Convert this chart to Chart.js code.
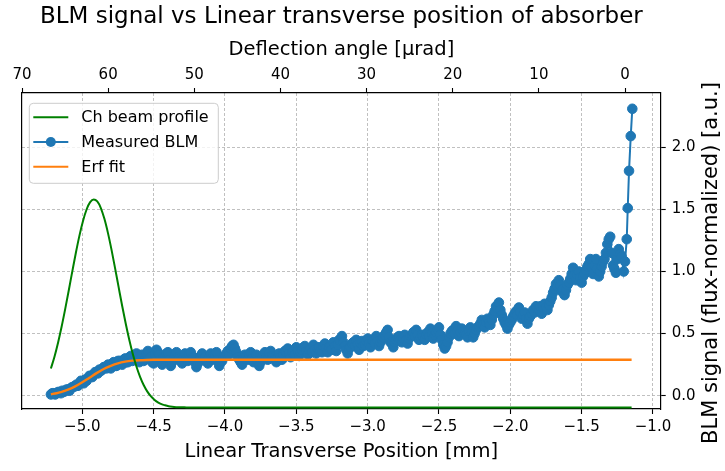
<!DOCTYPE html>
<html>
<head>
<meta charset="utf-8">
<script src="https://cdn.jsdelivr.net/npm/chart.js@4"></script>
<style>
  html, body { margin: 0; padding: 0; background: #fff; }
  canvas { display: block; }
</style>
</head>
<body>
<canvas id="blmChart" width="725" height="471"></canvas>
<script>
var chartTitle = 'BLM signal vs Linear transverse position of absorber';
var xTitle = 'Linear Transverse Position [mm]';
var topTitle = 'Deflection angle [\u03bcrad]';
var yTitle = 'BLM signal (flux-normalized) [a.u.]';

var xTicks = [-5.0, -4.5, -4.0, -3.5, -3.0, -2.5, -2.0, -1.5, -1.0];
var angleTicks = [70, 60, 50, 40, 30, 20, 10, 0];
var yTicks = [0.0, 0.5, 1.0, 1.5, 2.0];

// Ch beam profile (green)
var profileX = [-5.220, -5.195, -5.170, -5.145, -5.120, -5.095, -5.070, -5.045, -5.020, -4.995,
  -4.970, -4.945, -4.920, -4.895, -4.870, -4.845, -4.820, -4.795, -4.770, -4.745,
  -4.720, -4.695, -4.670, -4.645, -4.620, -4.595, -4.570, -4.545, -4.520, -4.495,
  -4.470, -4.445, -4.420, -4.395, -4.370, -4.320, -4.270, -4.200, -3.500, -3.000,
  -2.500, -2.000, -1.500, -1.150];
var profileY = [0.219, 0.314, 0.427, 0.555, 0.697, 0.847, 1.001, 1.151, 1.289, 1.407,
  1.499, 1.558, 1.580, 1.564, 1.511, 1.424, 1.309, 1.174, 1.025, 0.872,
  0.720, 0.577, 0.446, 0.331, 0.233, 0.152, 0.086, 0.035, -0.004, -0.032,
  -0.053, -0.068, -0.077, -0.084, -0.088, -0.093, -0.094, -0.095, -0.095, -0.095,
  -0.095, -0.095, -0.095, -0.095];

// Measured BLM (blue), even hundredths
var blmX = [-5.22, -5.20, -5.18, -5.16, -5.14, -5.12, -5.10, -5.08, -5.06, -5.04,
  -5.02, -5.00, -4.98, -4.96, -4.94, -4.92, -4.90, -4.88, -4.86, -4.84,
  -4.82, -4.80, -4.78, -4.76, -4.74, -4.72, -4.70, -4.68, -4.66, -4.64,
  -4.62, -4.60, -4.58, -4.56, -4.54, -4.52, -4.50, -4.48, -4.46, -4.44,
  -4.42, -4.40, -4.38, -4.36, -4.34, -4.32, -4.30, -4.28, -4.26, -4.24,
  -4.22, -4.20, -4.18, -4.16, -4.14, -4.12, -4.10, -4.08, -4.06, -4.04,
  -4.02, -4.00, -3.98, -3.96, -3.94, -3.92, -3.90, -3.88, -3.86, -3.84,
  -3.82, -3.80, -3.78, -3.76, -3.74, -3.72, -3.70, -3.68, -3.66, -3.64,
  -3.62, -3.60, -3.58, -3.56, -3.54, -3.52, -3.50, -3.48, -3.46, -3.44,
  -3.42, -3.40, -3.38, -3.36, -3.34, -3.32, -3.30, -3.28, -3.26, -3.24,
  -3.22, -3.20, -3.18, -3.16, -3.14, -3.12, -3.10, -3.08, -3.06, -3.04,
  -3.02, -3.00, -2.98, -2.96, -2.94, -2.92, -2.90, -2.88, -2.86, -2.84,
  -2.82, -2.80, -2.78, -2.76, -2.74, -2.72, -2.70, -2.68, -2.66, -2.64,
  -2.62, -2.60, -2.58, -2.56, -2.54, -2.52, -2.50, -2.48, -2.46, -2.44,
  -2.42, -2.40, -2.38, -2.36, -2.34, -2.32, -2.30, -2.28, -2.26, -2.24,
  -2.22, -2.20, -2.18, -2.16, -2.14, -2.12, -2.10, -2.08, -2.06, -2.04,
  -2.02, -2.00, -1.98, -1.96, -1.94, -1.92, -1.90, -1.88, -1.86, -1.84,
  -1.82, -1.80, -1.78, -1.76, -1.74, -1.72, -1.70, -1.68, -1.66, -1.64,
  -1.62, -1.60, -1.58, -1.56, -1.54, -1.52, -1.50, -1.48, -1.46, -1.44,
  -1.42, -1.40, -1.38, -1.36, -1.34, -1.32, -1.30, -1.28, -1.26, -1.24,
  -1.22, -1.205, -1.196, -1.184, -1.177, -1.168, -1.156, -1.145];
var blmY = [0.01, 0.02, 0.02, 0.03, 0.04, 0.04, 0.05, 0.06, 0.07, 0.09,
  0.10, 0.11, 0.13, 0.14, 0.16, 0.17, 0.19, 0.21, 0.21, 0.23,
  0.25, 0.22, 0.27, 0.24, 0.28, 0.25, 0.30, 0.27, 0.32, 0.29,
  0.34, 0.27, 0.33, 0.29, 0.36, 0.31, 0.26, 0.37, 0.33, 0.25,
  0.31, 0.35, 0.24, 0.29, 0.35, 0.30, 0.26, 0.34, 0.28, 0.35,
  0.31, 0.23, 0.28, 0.34, 0.31, 0.26, 0.34, 0.29, 0.35, 0.24,
  0.28, 0.32, 0.36, 0.38, 0.41, 0.35, 0.29, 0.25, 0.33, 0.29,
  0.35, 0.27, 0.33, 0.24, 0.30, 0.35, 0.29, 0.36, 0.31, 0.27,
  0.34, 0.29, 0.36, 0.38, 0.31, 0.36, 0.39, 0.32, 0.37, 0.40,
  0.33, 0.38, 0.41, 0.34, 0.39, 0.35, 0.42, 0.35, 0.40, 0.43,
  0.36, 0.45, 0.48, 0.40, 0.34, 0.39, 0.43, 0.45, 0.37, 0.44,
  0.41, 0.46, 0.39, 0.44, 0.48, 0.40, 0.45, 0.49, 0.53, 0.43,
  0.39, 0.45, 0.48, 0.43, 0.49, 0.42, 0.48, 0.51, 0.53, 0.45,
  0.49, 0.45, 0.51, 0.54, 0.46, 0.51, 0.55, 0.45, 0.38, 0.43,
  0.50, 0.53, 0.56, 0.48, 0.54, 0.50, 0.47, 0.55, 0.47, 0.53,
  0.56, 0.61, 0.55, 0.62, 0.57, 0.65, 0.72, 0.75, 0.65, 0.59,
  0.54, 0.59, 0.64, 0.68, 0.71, 0.62, 0.67, 0.58, 0.64, 0.69,
  0.72, 0.69, 0.66, 0.74, 0.69, 0.76, 0.83, 0.90, 0.93, 0.84,
  0.81, 0.89, 0.94, 1.03, 0.93, 1.00, 0.91, 0.98, 1.04, 1.10,
  0.98, 1.10, 0.96, 1.04, 1.10, 1.22, 1.28, 1.05, 0.99, 1.18,
  1.12, 1.00, 1.08, 1.26, 1.51, 1.81, 2.09, 2.31];

// Measured BLM (blue), odd hundredths in between
var blmXOdd = [-5.21, -5.19, -5.17, -5.15, -5.13, -5.11, -5.09, -5.07, -5.05, -5.03,
  -5.01, -4.99, -4.97, -4.95, -4.93, -4.91, -4.89, -4.87, -4.85, -4.83,
  -4.81, -4.79, -4.77, -4.75, -4.73, -4.71, -4.69, -4.67, -4.65, -4.63,
  -4.61, -4.59, -4.57, -4.55, -4.53, -4.51, -4.49, -4.47, -4.45, -4.43,
  -4.41, -4.39, -4.37, -4.35, -4.33, -4.31, -4.29, -4.27, -4.25, -4.23,
  -4.21, -4.19, -4.17, -4.15, -4.13, -4.11, -4.09, -4.07, -4.05, -4.03,
  -4.01, -3.99, -3.97, -3.95, -3.93, -3.91, -3.89, -3.87, -3.85, -3.83,
  -3.81, -3.79, -3.77, -3.75, -3.73, -3.71, -3.69, -3.67, -3.65, -3.63,
  -3.61, -3.59, -3.57, -3.55, -3.53, -3.51, -3.49, -3.47, -3.45, -3.43,
  -3.41, -3.39, -3.37, -3.35, -3.33, -3.31, -3.29, -3.27, -3.25, -3.23,
  -3.21, -3.19, -3.17, -3.15, -3.13, -3.11, -3.09, -3.07, -3.05, -3.03,
  -3.01, -2.99, -2.97, -2.95, -2.93, -2.91, -2.89, -2.87, -2.85, -2.83,
  -2.81, -2.79, -2.77, -2.75, -2.73, -2.71, -2.69, -2.67, -2.65, -2.63,
  -2.61, -2.59, -2.57, -2.55, -2.53, -2.51, -2.49, -2.47, -2.45, -2.43,
  -2.41, -2.39, -2.37, -2.35, -2.33, -2.31, -2.29, -2.27, -2.25, -2.23,
  -2.21, -2.19, -2.17, -2.15, -2.13, -2.11, -2.09, -2.07, -2.05, -2.03,
  -2.01, -1.99, -1.97, -1.95, -1.93, -1.91, -1.89, -1.87, -1.85, -1.83,
  -1.81, -1.79, -1.77, -1.75, -1.73, -1.71, -1.69, -1.67, -1.65, -1.63,
  -1.61, -1.59, -1.57, -1.55, -1.53, -1.51, -1.49, -1.47, -1.45, -1.43,
  -1.41, -1.39, -1.37, -1.35, -1.33, -1.31, -1.29, -1.27, -1.25, -1.23];
var blmYOdd = [0.02, 0.01, 0.03, 0.02, 0.03, 0.05, 0.04, 0.07, 0.08, 0.08,
  0.12, 0.10, 0.12, 0.16, 0.15, 0.19, 0.18, 0.20, 0.23, 0.22,
  0.23, 0.26, 0.24, 0.28, 0.26, 0.29, 0.27, 0.31, 0.28, 0.33,
  0.30, 0.32, 0.28, 0.34, 0.30, 0.27, 0.33, 0.35, 0.29, 0.31,
  0.34, 0.29, 0.27, 0.33, 0.31, 0.28, 0.31, 0.30, 0.33, 0.30,
  0.27, 0.26, 0.32, 0.30, 0.28, 0.31, 0.30, 0.33, 0.29, 0.27,
  0.31, 0.34, 0.33, 0.40, 0.38, 0.31, 0.27, 0.30, 0.31, 0.33,
  0.30, 0.31, 0.28, 0.27, 0.33, 0.31, 0.34, 0.32, 0.29, 0.31,
  0.31, 0.33, 0.35, 0.34, 0.35, 0.33, 0.36, 0.35, 0.39, 0.36,
  0.37, 0.35, 0.37, 0.38, 0.36, 0.40, 0.38, 0.39, 0.37, 0.40,
  0.41, 0.44, 0.43, 0.37, 0.38, 0.42, 0.40, 0.41, 0.42, 0.40,
  0.44, 0.42, 0.45, 0.42, 0.44, 0.43, 0.47, 0.51, 0.47, 0.42,
  0.43, 0.47, 0.45, 0.46, 0.45, 0.46, 0.49, 0.48, 0.49, 0.47,
  0.47, 0.49, 0.48, 0.50, 0.49, 0.53, 0.49, 0.41, 0.40, 0.47,
  0.52, 0.50, 0.52, 0.51, 0.52, 0.49, 0.52, 0.51, 0.50, 0.55,
  0.58, 0.57, 0.59, 0.58, 0.61, 0.68, 0.70, 0.69, 0.62, 0.57,
  0.57, 0.61, 0.66, 0.65, 0.67, 0.65, 0.62, 0.62, 0.66, 0.67,
  0.70, 0.72, 0.71, 0.71, 0.73, 0.79, 0.86, 0.88, 0.89, 0.86,
  0.85, 0.91, 0.98, 0.97, 0.97, 0.95, 0.96, 1.01, 1.06, 1.03,
  1.05, 1.02, 1.00, 1.08, 1.15, 1.26, 1.15, 1.02, 1.10, 1.14];

// Erf fit (orange)
var fitX = [-5.22, -5.18, -5.15, -5.10, -5.05, -5.00, -4.95, -4.90, -4.85, -4.80,
  -4.75, -4.70, -4.65, -4.60, -4.55, -4.50, -4.40, -1.15];
var fitY = [0.012, 0.020, 0.029, 0.049, 0.075, 0.108, 0.145, 0.182, 0.215, 0.241,
  0.261, 0.274, 0.282, 0.286, 0.288, 0.289, 0.290, 0.290];

Chart.defaults.font.family = '"DejaVu Sans", sans-serif';
Chart.defaults.color = '#000';

function pairs(xs, ys) {
  return xs.map(function (x, i) { return { x: x, y: ys[i] }; });
}
function minus(s) { return s.replace('-', '\u2212'); }
function fixTicks(list) {
  return function (scale) { scale.ticks = list.map(function (v) { return { value: v }; }); };
}

var blmPoints = pairs(blmX, blmY).concat(pairs(blmXOdd, blmYOdd))
  .sort(function (a, b) { return a.x - b.x; });

var gridColor = '#b0b0b0';
var tickMark = { tickLength: 5, tickColor: '#000', tickWidth: 1.1, tickBorderDash: [] };

// legend box and the right-hand rotated label
var extras = {
  id: 'extras',
  afterDraw: function (chart) {
    var ctx = chart.ctx, area = chart.chartArea;
    ctx.save();
    ctx.translate(712, 263);
    ctx.rotate(-Math.PI / 2);
    ctx.font = '21px "DejaVu Sans"';
    ctx.fillStyle = '#000';
    ctx.textAlign = 'center';
    ctx.textBaseline = 'middle';
    ctx.fillText(yTitle, 0, 0);
    ctx.restore();

    var bx = area.left + 7.3, by = area.top + 10.3, bw = 189, bh = 80, r = 4;
    ctx.save();
    ctx.beginPath();
    ctx.moveTo(bx + r, by);
    ctx.arcTo(bx + bw, by, bx + bw, by + bh, r);
    ctx.arcTo(bx + bw, by + bh, bx, by + bh, r);
    ctx.arcTo(bx, by + bh, bx, by, r);
    ctx.arcTo(bx, by, bx + bw, by, r);
    ctx.closePath();
    ctx.fillStyle = 'rgba(255,255,255,0.8)';
    ctx.fill();
    ctx.strokeStyle = '#cccccc';
    ctx.lineWidth = 1;
    ctx.stroke();

    ctx.font = '16px "DejaVu Sans"';
    ctx.textAlign = 'left';
    ctx.textBaseline = 'middle';
    chart.data.datasets.forEach(function (ds, i) {
      var y = by + 14 + i * 24.7;
      ctx.strokeStyle = ds.borderColor;
      ctx.lineWidth = 2;
      ctx.beginPath();
      ctx.moveTo(bx + 4, y);
      ctx.lineTo(bx + 39, y);
      ctx.stroke();
      if (ds.pointRadius) {
        ctx.fillStyle = ds.borderColor;
        ctx.beginPath();
        ctx.arc(bx + 21.5, y, 5, 0, Math.PI * 2);
        ctx.fill();
      }
      ctx.fillStyle = '#000';
      ctx.fillText(ds.label, bx + 52, y + 1);
    });
    ctx.restore();
  }
};

new Chart(document.getElementById('blmChart'), {
  type: 'line',
  data: {
    datasets: [
      { label: 'Ch beam profile', data: pairs(profileX, profileY), borderColor: '#008000', borderWidth: 2,
        pointRadius: 0, cubicInterpolationMode: 'monotone', order: 0 },
      { label: 'Measured BLM', data: blmPoints, borderColor: '#1f77b4', backgroundColor: '#1f77b4',
        borderWidth: 2, pointRadius: 4.8, pointBorderWidth: 1, order: 2 },
      { label: 'Erf fit', data: pairs(fitX, fitY), borderColor: '#ff7f0e', borderWidth: 2.4,
        pointRadius: 0, cubicInterpolationMode: 'monotone', order: 1 }
    ]
  },
  options: {
    responsive: false,
    animation: false,
    devicePixelRatio: 1,
    layout: { padding: { left: 22, right: 0, top: 0, bottom: 0 } },
    plugins: {
      legend: { display: false },
      tooltip: { enabled: false },
      title: { display: true, fullSize: false, text: chartTitle, color: '#000', font: { size: 23, weight: 'normal' }, padding: { top: 3, bottom: 0 } }
    },
    scales: {
      x: {
        type: 'linear', position: 'bottom', min: -5.4226, max: -0.946,
        afterBuildTicks: fixTicks(xTicks),
        afterFit: function (s) { s.height = 62; },
        ticks: { font: { size: 15 }, padding: 4, maxRotation: 0, autoSkip: false,
          callback: function (v) { return minus(v.toFixed(1)); } },
        grid: Object.assign({ color: gridColor, lineWidth: 0.8 }, tickMark),
        border: { color: '#000', width: 1.2, dash: [3, 2] },
        title: { display: true, text: xTitle, font: { size: 19.5 }, padding: { top: 0, bottom: 7.6 } }
      },
      x2: {
        type: 'linear', position: 'top', reverse: true, min: -4.14, max: 70,
        afterBuildTicks: fixTicks(angleTicks),
        afterFit: function (s) { s.height = 62.4; },
        ticks: { font: { size: 15 }, padding: 4, maxRotation: 0, autoSkip: false,
          callback: function (v) { return String(v); } },
        grid: Object.assign({ drawOnChartArea: false }, tickMark),
        border: { color: '#000', width: 1.2 },
        title: { display: true, text: topTitle, font: { size: 19.5 }, padding: { top: 8, bottom: 0 } }
      },
      y: {
        type: 'linear', position: 'right', min: -0.107, max: 2.437,
        afterBuildTicks: fixTicks(yTicks),
        afterFit: function (s) { s.width = 64.3; },
        ticks: { font: { size: 15 }, padding: 6, callback: function (v) { return v.toFixed(1); } },
        grid: Object.assign({ color: gridColor, lineWidth: 0.8 }, tickMark),
        border: { color: '#000', width: 1.2, dash: [3, 2] }
      },
      yl: {
        type: 'linear', position: 'left', min: -0.107, max: 2.437,
        afterFit: function (s) { s.width = 0; },
        ticks: { display: false },
        grid: { display: false, drawTicks: false },
        border: { display: true, color: '#000', width: 1.2 }
      }
    }
  },
  plugins: [extras]
});
</script>
</body>
</html>
